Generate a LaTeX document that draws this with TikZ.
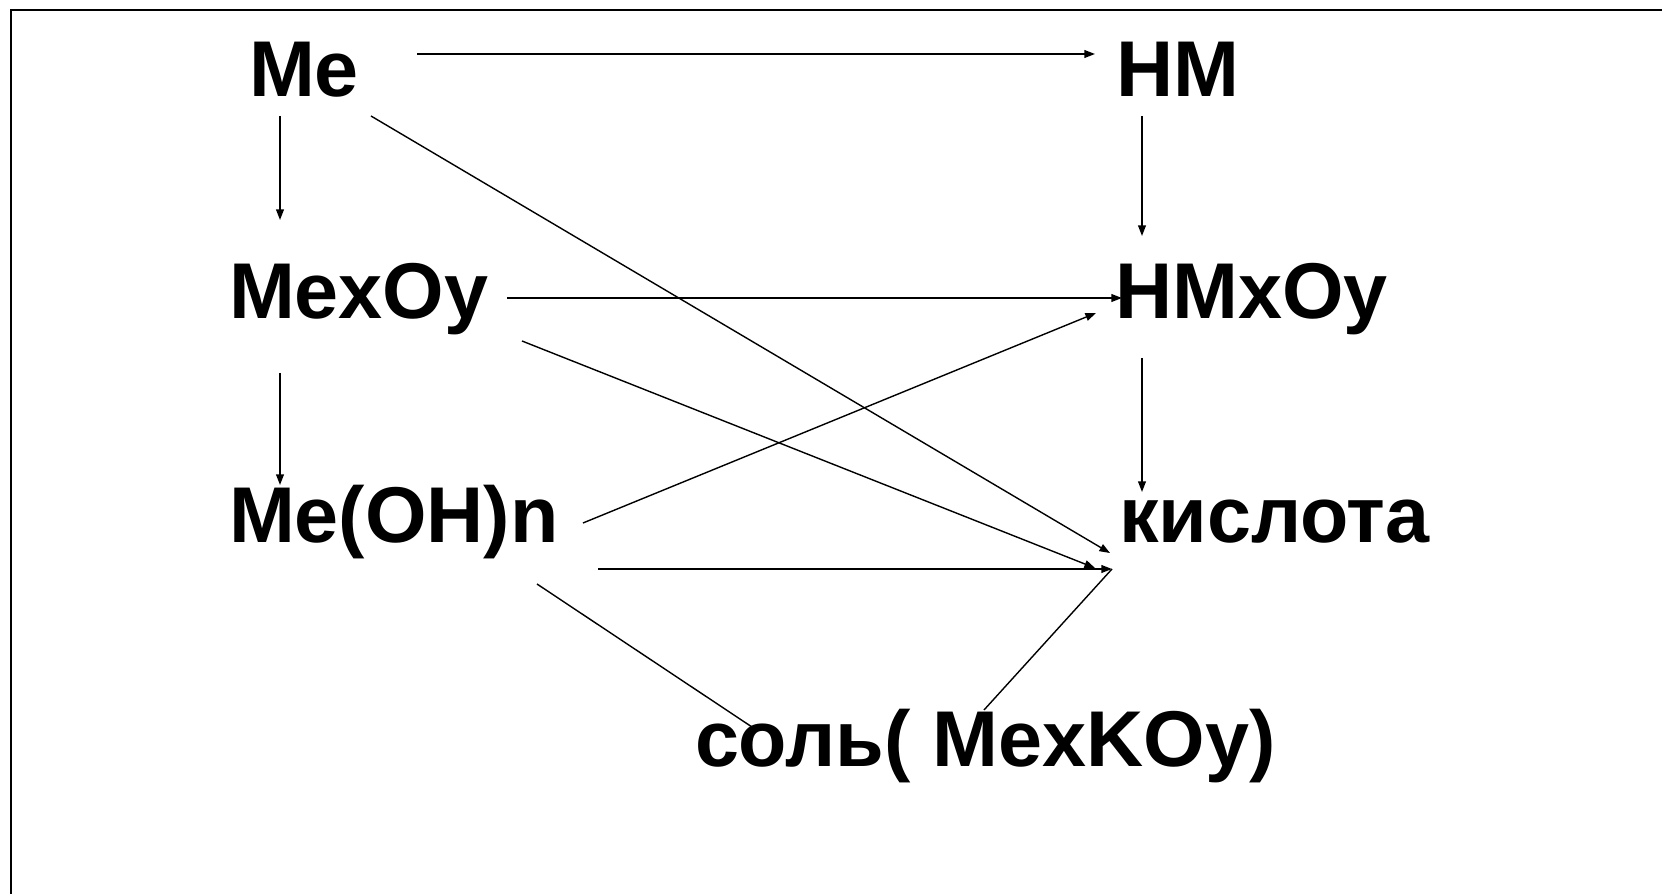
\documentclass[tikz,border=0pt]{standalone}
\usepackage{fontspec}
\setmainfont{Liberation Sans}
\usepackage{tikz}
\usetikzlibrary{arrows.meta}

\begin{document}
\begin{tikzpicture}[x=0.01cm,y=-0.01cm,line width=0.4pt]
  \tikzstyle{formula}=[anchor=base west, inner sep=0pt, outer sep=0pt,
    font=\fontsize{22.5}{27}\selectfont\bfseries]
  \tikzstyle{conv}=[-{Triangle[length=3pt,width=2.2pt]}]

  \useasboundingbox (0,0) rectangle (1662,894);
  \draw [line width=0.6pt] (11,894) -- (11,10) -- (1662,10);

  \node [formula] (me) at (249,97) {Me};
  \node [formula] (hm) at (1116,97) {HM};
  \node [formula] (mexoy) at (229,319) {MexOy};
  \node [formula] (hmxoy) at (1115,319) {HMxOy};
  \node [formula] (meoh) at (229,543) {Me(OH)n};
  \node [formula] (kisl) at (1119,543) {кислота};
  \node [formula] (sol) at (695,767) {соль( MexKOy)};

  % top row and the two columns
  \draw [conv] ([shift={(168,-43)}]me.base west) -- ([shift={(-21,-43)}]hm.base west);
  \draw [conv] ([shift={(31,19)}]me.base west) -- ([shift={(51,-99)}]mexoy.base west);
  \draw [conv] ([shift={(26,19)}]hm.base west) -- ([shift={(27,-83)}]hmxoy.base west);
  \draw [conv] ([shift={(51,54)}]mexoy.base west) -- ([shift={(51,-58)}]meoh.base west);
  \draw [conv] ([shift={(27,39)}]hmxoy.base west) -- ([shift={(23,-51)}]kisl.base west);

  % cross connections
  \draw [conv] ([shift={(278,-21)}]mexoy.base west) -- ([shift={(7,-21)}]hmxoy.base west);
  \draw [conv] ([shift={(122,19)}]me.base west) -- ([shift={(-9,10)}]kisl.base west);
  \draw [conv] ([shift={(293,22)}]mexoy.base west) -- ([shift={(-24,25)}]kisl.base west);
  \draw [conv] ([shift={(354,-20)}]meoh.base west) -- ([shift={(-19,-6)}]hmxoy.base west);
  \draw [conv] ([shift={(369,26)}]meoh.base west) -- ([shift={(-7,26)}]kisl.base west);

  % salt
  \draw ([shift={(308,41)}]meoh.base west) -- ([shift={(60,-38)}]sol.base west);
  \draw ([shift={(289,-57)}]sol.base west) -- ([shift={(-7,26)}]kisl.base west);
\end{tikzpicture}
\end{document}
